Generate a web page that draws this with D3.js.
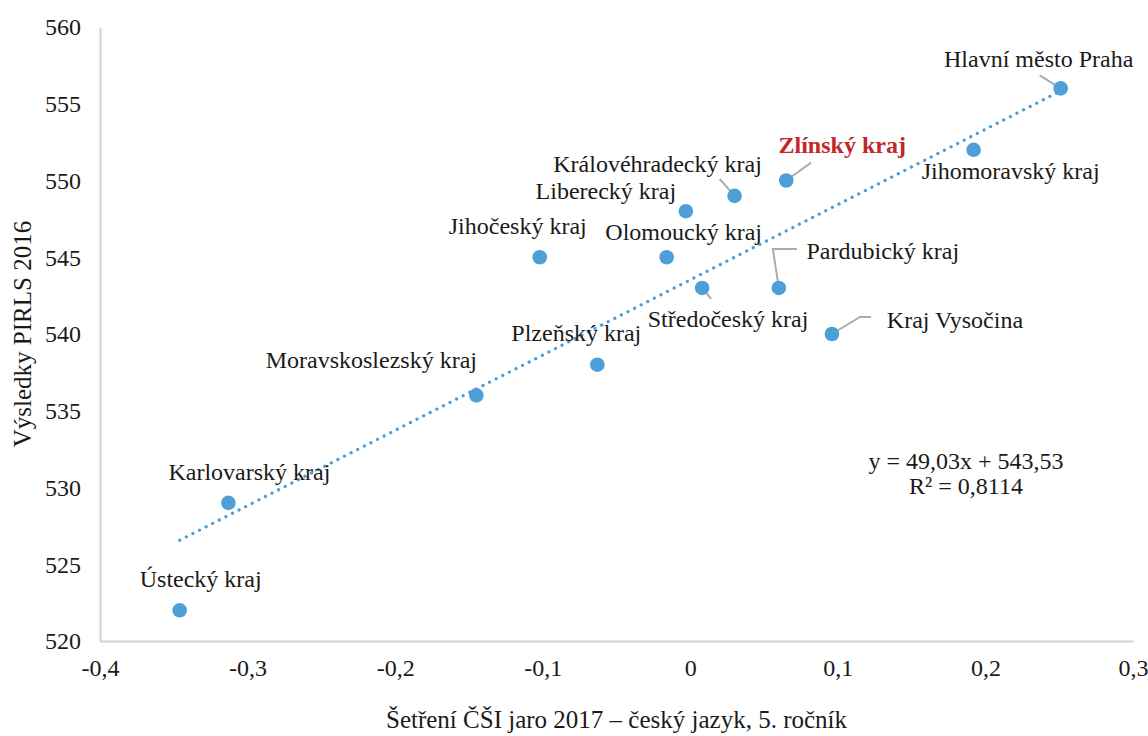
<!DOCTYPE html>
<html><head><meta charset="utf-8">
<script src="https://cdn.jsdelivr.net/npm/d3@7"></script>
<style>
html,body{margin:0;padding:0;background:#fff;}
text{font-family:"Liberation Serif","Times New Roman",serif;fill:#1a1a1a;}
</style></head>
<body><svg id="chart" width="1148" height="736"></svg>
<script>
const regions = ["Ústecký kraj","Karlovarský kraj","Moravskoslezský kraj","Jihočeský kraj","Plzeňský kraj","Olomoucký kraj","Liberecký kraj","Středočeský kraj","Královéhradecký kraj","Pardubický kraj","Zlínský kraj","Kraj Vysočina","Jihomoravský kraj","Hlavní město Praha"];
const csiValues = [-0.346,-0.313,-0.145,-0.102,-0.063,-0.016,-0.003,0.008,0.030,0.060,0.065,0.096,0.192,0.251];
const pirlsValues = [522,529,536,545,538,545,548,543,549,543,550,540,552,556];
const xTicks = [-0.4,-0.3,-0.2,-0.1,0,0.1,0.2,0.3];
const yTicks = [520,525,530,535,540,545,550,555,560];
const trendSlope = 49.03, trendIntercept = 543.53, rSquared = 0.8114;
const xTitle = "Šetření ČŠI jaro 2017 – český jazyk, 5. ročník";
const yTitle = "Výsledky PIRLS 2016";
const highlight = "Zlínský kraj";

// label layout (pixel offsets of label center/baseline from point), leader lines
const labelLayout = {
 "Ústecký kraj":{dx:21,dy:-23},
 "Karlovarský kraj":{dx:21,dy:-23},
 "Moravskoslezský kraj":{dx:-105,dy:-27},
 "Jihočeský kraj":{dx:-22,dy:-23},
 "Plzeňský kraj":{dx:-21,dy:-24},
 "Olomoucký kraj":{dx:17,dy:-17},
 "Liberecký kraj":{dx:-80,dy:-12},
 "Středočeský kraj":{dx:26,dy:39,leader:[[9,11]]},
 "Královéhradecký kraj":{dx:-77,dy:-24,leader:[[-15,-17]]},
 "Pardubický kraj":{dx:104,dy:-29,leader:[[-6,-39],[18,-39]]},
 "Zlínský kraj":{dx:56,dy:-28,leader:[[25,-18]]},
 "Kraj Vysočina":{dx:123,dy:-6,leader:[[28,-17],[39,-17]]},
 "Jihomoravský kraj":{dx:37,dy:29},
 "Hlavní město Praha":{dx:-22,dy:-21,leader:[[-21,-13]]}
};

const svg = d3.select("#chart");
const m = {left:100, right:15, top:27, bottom:95};
const W = 1148, H = 736;
const x = d3.scaleLinear().domain([-0.4,0.3]).range([m.left, W - m.right]);
const y = d3.scaleLinear().domain([520,560]).range([H - m.bottom, m.top]);
const fs = 24;
const fmt = v => (Math.abs(v) < 1e-9 ? "0" : d3.format(".1f")(v).replace(".", ",").replace("−","-"));

// axes
const xAxis = svg.append("g").attr("transform",`translate(0,${y(520)})`)
  .call(d3.axisBottom(x).tickValues(xTicks).tickSize(0).tickPadding(18).tickFormat(fmt));
const yAxis = svg.append("g").attr("transform",`translate(${x(-0.4)},0)`)
  .call(d3.axisLeft(y).tickValues(yTicks).tickSize(0).tickPadding(19).tickFormat(d3.format("d")));
[xAxis,yAxis].forEach(g=>{
  g.select(".domain").attr("stroke","#d0d3d8").attr("stroke-width",2);
  g.selectAll("text").style("font-size",fs+"px").attr("fill","#1a1a1a").style("font-family","'Liberation Serif',serif");
});
xAxis.selectAll("text").attr("dy","0.71em");
yAxis.selectAll("text").attr("dy","0.33em");

// trendline
const xmin = d3.min(csiValues), xmax = d3.max(csiValues);
svg.append("line")
  .attr("x1",x(xmin)).attr("y1",y(trendSlope*xmin+trendIntercept))
  .attr("x2",x(xmax)).attr("y2",y(trendSlope*xmax+trendIntercept))
  .attr("stroke","#4a9fd8").attr("stroke-width",3.2)
  .attr("stroke-linecap","round").attr("stroke-dasharray","0.1 7.3");

// leaders
const data = regions.map((r,i)=>({name:r, xv:csiValues[i], yv:pirlsValues[i]}));
data.forEach(d=>{
  const L = labelLayout[d.name];
  if (L.leader){
    const px = x(d.xv), py = y(d.yv);
    const pts = [[px,py]].concat(L.leader.map(p=>[px+p[0],py+p[1]]));
    svg.append("path").attr("d",d3.line()(pts)).attr("fill","none")
      .attr("stroke","#a9abae").attr("stroke-width",2);
  }
});

// points
svg.append("g").selectAll("circle").data(data).join("circle")
  .attr("cx",d=>x(d.xv)).attr("cy",d=>y(d.yv)).attr("r",7.3)
  .attr("fill","#4e9fd8");

// labels
svg.append("g").selectAll("text").data(data).join("text")
  .attr("x",d=>x(d.xv)+labelLayout[d.name].dx)
  .attr("y",d=>y(d.yv)+labelLayout[d.name].dy)
  .attr("text-anchor","middle")
  .style("font-size",fs+"px")
  .style("font-weight",d=>d.name===highlight?"bold":"normal")
  .style("fill",d=>d.name===highlight?"#c4262b":"#1a1a1a")
  .text(d=>d.name);

// equation
const eq = svg.append("text").attr("x",966).attr("y",469).attr("text-anchor","middle").style("font-size",fs+"px");
eq.append("tspan").attr("x",966).text(`y = ${String(trendSlope).replace(".",",")}x + ${String(trendIntercept).replace(".",",")}`);
eq.append("tspan").attr("x",966).attr("dy",25).text(`R² = ${String(rSquared).replace(".",",")}`);

// titles
svg.append("text").attr("x",(x(-0.4)+x(0.3))/2).attr("y",728).attr("text-anchor","middle")
  .style("font-size",fs+1+"px").text(xTitle);
svg.append("text").attr("transform",`translate(31,334) rotate(-90)`).attr("text-anchor","middle")
  .style("font-size",fs+1+"px").text(yTitle);
</script></body></html>
